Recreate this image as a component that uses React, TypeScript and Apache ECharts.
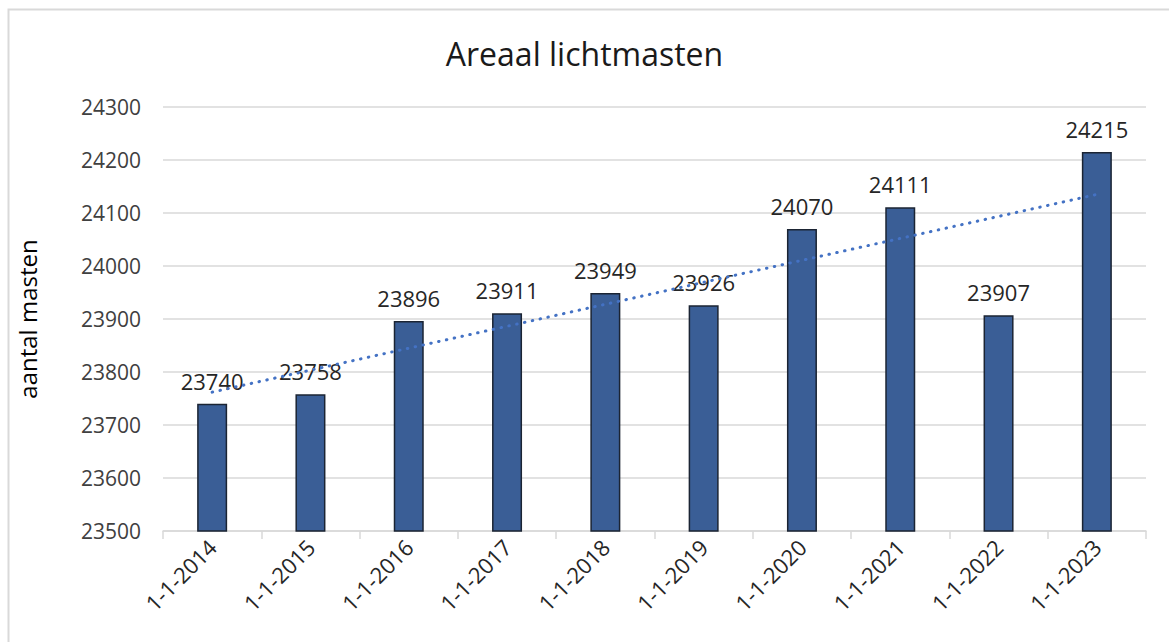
import React, { useEffect, useRef } from "react";
import * as echarts from "echarts";

const categories = [
  "1-1-2014", "1-1-2015", "1-1-2016", "1-1-2017", "1-1-2018",
  "1-1-2019", "1-1-2020", "1-1-2021", "1-1-2022", "1-1-2023",
];
const masten = [23740, 23758, 23896, 23911, 23949, 23926, 24070, 24111, 23907, 24215];
// Trendline endpoints (linear trend as drawn in the reference)
const trendStart = 23762;
const trendEnd = 24135;
const yTicks = { min: 23500, max: 24300, interval: 100 };

const FONT = "Open Sans";

export default function App() {
  const ref = useRef<HTMLDivElement>(null);
  useEffect(() => {
    if (!ref.current) return;
    const chart = echarts.init(ref.current, undefined, { renderer: "svg" });
    chart.setOption({
      animation: false,
      backgroundColor: "#ffffff",
      textStyle: { fontFamily: FONT },
      title: {
        text: "Areaal lichtmasten",
        left: "center",
        top: 32,
        textStyle: { fontFamily: FONT, fontSize: 32, fontWeight: "normal", color: "#1a1a1a" },
      },
      graphic: [
        {
          type: "rect",
          left: 6,
          top: 7,
          shape: { width: 1200, height: 700 },
          style: { fill: "none", stroke: "#d9d9d9", lineWidth: 2 },
          silent: true,
        },
      ],
      grid: { left: 163, right: 23, top: 107, bottom: 111 },
      xAxis: {
        type: "category",
        data: categories,
        boundaryGap: true,
        axisLine: { lineStyle: { color: "#d9d9d9", width: 1.5 } },
        axisTick: { show: true, alignWithLabel: false, length: 8, lineStyle: { color: "#d9d9d9", width: 1.5 } },
        axisLabel: {
          rotate: 45,
          margin: 12,
          interval: 0,
          fontFamily: FONT,
          fontSize: 22,
          color: "#262626",
        },
      },
      yAxis: {
        type: "value",
        min: yTicks.min,
        max: yTicks.max,
        interval: yTicks.interval,
        name: "aantal masten",
        nameLocation: "middle",
        nameRotate: 90,
        nameGap: 124,
        nameTextStyle: { fontFamily: FONT, fontSize: 24, color: "#000000" },
        axisLine: { show: false },
        axisTick: { show: false },
        axisLabel: {
          margin: 22,
          fontFamily: FONT,
          fontSize: 21,
          color: "#404040",
          formatter: (v: number) => String(v),
        },
        splitLine: { lineStyle: { color: "#d9d9d9", width: 1.5 } },
      },
      series: [
        {
          type: "bar",
          data: masten,
          barWidth: 30,
          itemStyle: {
            color: "#3a5e96",
            borderColor: "#1b2433",
            borderWidth: 1.5,
          },
          label: {
            show: true,
            position: "top",
            distance: 12,
            fontFamily: FONT,
            fontSize: 22,
            color: "#262626",
          },
          markLine: {
            silent: true,
            symbol: ["none", "none"],
            label: { show: false },
            lineStyle: { color: "#4472c4", width: 3, type: [0.5, 7.5], cap: "round" },
            data: [
              [
                { coord: [categories[0], trendStart] },
                { coord: [categories[categories.length - 1], trendEnd] },
              ],
            ],
          },
        },
      ],
    });
    return () => chart.dispose();
  }, []);
  return (
    <div
      ref={ref}
      style={{ position: "absolute", left: 0, top: 0, width: 1169, height: 642 }}
    />
  );
}
